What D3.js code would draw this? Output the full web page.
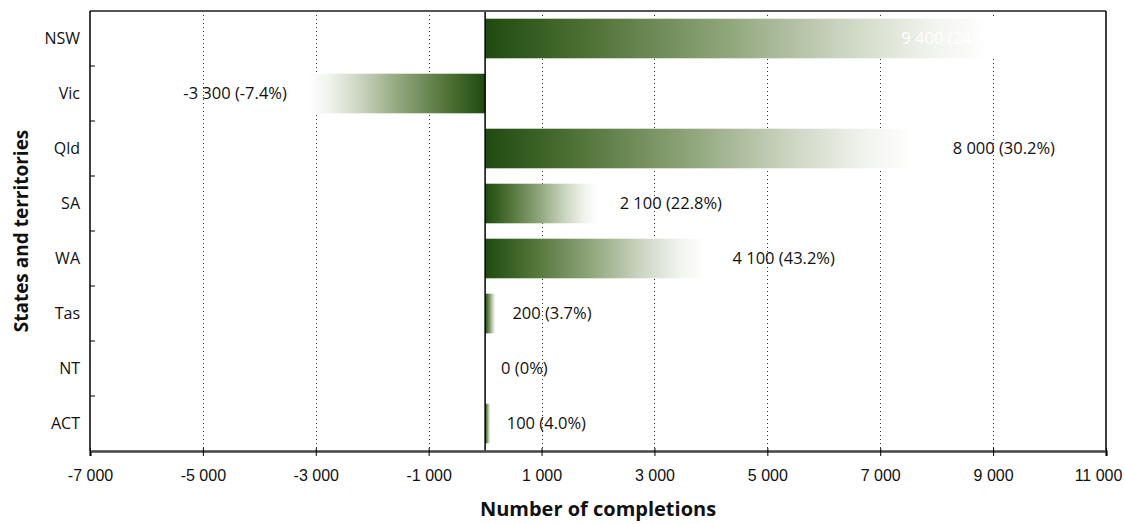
<!DOCTYPE html>
<html>
<head>
<meta charset="utf-8">
<script src="https://cdn.jsdelivr.net/npm/d3@7"></script>
<style>
  body { margin: 0; background: #fff; }
  svg { display: block; font-family: "Open Sans", "Noto Sans", sans-serif; }
</style>
</head>
<body>
<svg id="chart" width="1125" height="524"></svg>
<script>
// data
const states = ["NSW", "Vic", "Qld", "SA", "WA", "Tas", "NT", "ACT"];
const completions = [9400, -3300, 8000, 2100, 4100, 200, 0, 100];
const pctChange = ["24.3%", "-7.4%", "30.2%", "22.8%", "43.2%", "3.7%", "0%", "4.0%"];
const xTicks = [-7000, -5000, -3000, -1000, 1000, 3000, 5000, 7000, 9000, 11000];

const svg = d3.select("#chart");
const margin = { top: 11, right: 19, bottom: 73, left: 90 };
const W = 1125, H = 524;
const iw = W - margin.left - margin.right;
const ih = H - margin.top - margin.bottom;

const x = d3.scaleLinear().domain([-7000, 11000]).range([0, iw]);
const y = d3.scaleBand().domain(states).range([0, ih]).paddingInner(0.28).paddingOuter(0.14);

// "9 400", "-3 300": space as thousands separator, plain hyphen for minus
const fmt = v => d3.format(",")(v).replace(/,/g, " ").replace("\u2212", "-");

const defs = svg.append("defs");
// gradients: dark green at zero, fading to white at the bar end
function addGrad(id, reverse) {
  const g = defs.append("linearGradient").attr("id", id)
    .attr("x1", reverse ? "100%" : "0%").attr("x2", reverse ? "0%" : "100%")
    .attr("y1", "0%").attr("y2", "0%");
  [[0, "#1f4a0f"], [0.2, "#4f7236"], [0.45, "#8ea479"], [0.68, "#cdd6c3"], [0.85, "#f3f5f0"], [0.95, "#ffffff"], [1, "#ffffff"]]
    .forEach(([o, c]) => g.append("stop").attr("offset", o).attr("stop-color", c));
}
addGrad("gPos", false);
addGrad("gNeg", true);

const g = svg.append("g").attr("transform", `translate(${margin.left},${margin.top})`);

// dotted gridlines
g.append("g").selectAll("line")
  .data(xTicks.filter(t => t !== -7000 && t !== 11000))
  .join("line")
  .attr("x1", d => Math.round(x(d)) + 0.5).attr("x2", d => Math.round(x(d)) + 0.5)
  .attr("y1", 0).attr("y2", ih)
  .attr("stroke", "#333").attr("stroke-width", 1).attr("stroke-dasharray", "1,3");

// bars
g.append("g").selectAll("rect")
  .data(states.map((s, i) => ({ s, v: completions[i] })).filter(d => d.v !== 0))
  .join("rect")
  .attr("x", d => x(Math.min(0, d.v)))
  .attr("width", d => Math.abs(x(d.v) - x(0)))
  .attr("y", d => y(d.s))
  .attr("height", y.bandwidth())
  .attr("fill", d => d.v < 0 ? "url(#gNeg)" : "url(#gPos)");

// value labels
g.append("g").selectAll("text")
  .data(states.map((s, i) => ({ s, v: completions[i], p: pctChange[i], i })))
  .join("text")
  .attr("x", d => d.i === 0 ? x(d.v) - 12 : d.v < 0 ? x(d.v) - 12 : x(d.v) + 16)
  .attr("y", d => y(d.s) + y.bandwidth() / 2)
  .attr("dy", "0.35em")
  .attr("text-anchor", d => d.i === 0 || d.v < 0 ? "end" : "start")
  .attr("font-size", 16.5)
  .attr("fill", d => d.i === 0 ? "#fff" : "#111")
  .text(d => `${fmt(d.v)} (${d.p})`);

// zero line
g.append("line").attr("x1", x(0)).attr("x2", x(0)).attr("y1", 0).attr("y2", ih)
  .attr("stroke", "#000").attr("stroke-width", 1.5);

// frame: top and right
g.append("line").attr("x1", 0).attr("x2", iw).attr("y1", 0).attr("y2", 0)
  .attr("stroke", "#555").attr("stroke-width", 2);
g.append("line").attr("x1", iw).attr("x2", iw).attr("y1", 0).attr("y2", ih)
  .attr("stroke", "#000").attr("stroke-width", 1.5);

// x axis
const xAxis = g.append("g").attr("transform", `translate(0,${ih})`)
  .call(d3.axisBottom(x).tickValues(xTicks).tickFormat(fmt).tickSize(5).tickPadding(14));
xAxis.select(".domain").attr("stroke", "#444").attr("stroke-width", 2.5);
xAxis.selectAll(".tick line").attr("stroke", "#000").attr("y1", -3);
xAxis.selectAll("text").attr("font-size", 16).attr("fill", "#111").attr("font-family", "inherit");
// last label sits a little left so it stays inside the page
xAxis.selectAll(".tick").filter(d => d === 11000).select("text").attr("dx", -8);

// y axis: ticks at band boundaries pointing inward
const yAxis = g.append("g");
yAxis.append("line").attr("x1", 0).attr("x2", 0).attr("y1", 0).attr("y2", ih)
  .attr("stroke", "#000").attr("stroke-width", 1.5);
yAxis.selectAll("line.tk")
  .data(states.slice(1))
  .join("line").attr("class", "tk")
  .attr("x1", 0).attr("x2", 5)
  .attr("y1", d => y(d) - y.step() * y.paddingInner() / 2)
  .attr("y2", d => y(d) - y.step() * y.paddingInner() / 2)
  .attr("stroke", "#000");
yAxis.selectAll("text")
  .data(states)
  .join("text")
  .attr("x", -10).attr("y", d => y(d) + y.bandwidth() / 2).attr("dy", "0.35em")
  .attr("text-anchor", "end").attr("font-size", 16).attr("fill", "#111")
  .text(d => d);

// axis titles
svg.append("text")
  .attr("x", margin.left + iw / 2).attr("y", 516)
  .attr("text-anchor", "middle").attr("font-size", 20).attr("font-weight", "bold").attr("fill", "#111")
  .text("Number of completions");
svg.append("text")
  .attr("transform", `translate(28,${margin.top + ih / 2}) rotate(-90)`)
  .attr("text-anchor", "middle").attr("font-size", 19).attr("font-weight", "bold").attr("fill", "#111")
  .text("States and territories");
</script>
</body>
</html>
